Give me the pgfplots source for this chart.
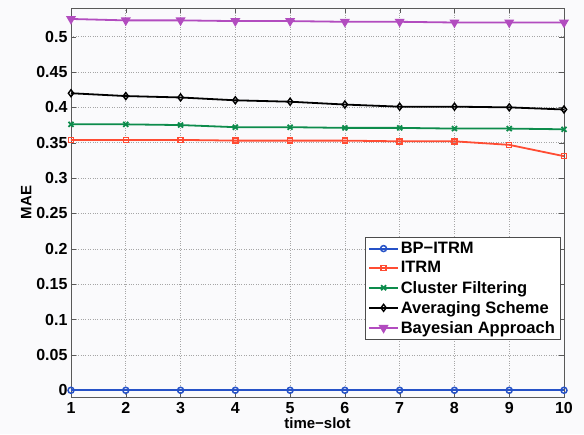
\documentclass[border=0pt]{standalone}
\usepackage{pgfplots}
\pgfplotsset{compat=1.18}
\usepackage{fontspec}
\setmainfont{Liberation Sans}
\definecolor{cblue}{rgb}{0.15,0.32,0.78}
\definecolor{cred}{rgb}{1,0.3,0.2}
\definecolor{cgreen}{rgb}{0.05,0.55,0.3}
\definecolor{cpurple}{rgb}{0.7,0.3,0.75}
\definecolor{bgc}{rgb}{0.98,0.98,0.99}
\begin{document}
\begin{tikzpicture}
\fill[bgc] (-71pt,-37pt) rectangle (513pt,397pt);
\begin{axis}[
  at={(0,0)}, anchor=south west,
  scale only axis, width=493pt, height=389pt,
  xmin=1, xmax=10, ymin=-0.0095, ymax=0.5405,
  xtick={1,...,10},
  ytick={0,0.05,0.1,0.15,0.2,0.25,0.3,0.35,0.4,0.45,0.5},
  yticklabels={0,0.05,0.1,0.15,0.2,0.25,0.3,0.35,0.4,0.45,0.5},
  tick align=inside, tick pos=both,
  major tick length=5pt,
  tick style={gray!70!black},
  axis line style={gray!70!black, line width=0.8pt},
  grid=major,
  major grid style={dotted, gray!70, line width=0.6pt},
  /pgf/number format/assume math mode=true,
  tick label style={font=\fontsize{16}{18}\selectfont\bfseries},
  xticklabel style={yshift=-2pt},
  xlabel={time−slot}, ylabel={MAE},
  label style={font=\fontsize{15}{17}\selectfont\bfseries},
  xlabel style={yshift=3pt},
  ylabel style={yshift=-2pt},
  legend style={at={(0.992,0.147)}, anchor=south east, draw=gray!60!black,
    font=\fontsize{16.5}{18}\selectfont\bfseries, row sep=2.6pt, inner sep=3pt},
  legend cell align=left,
  legend image code/.code={\draw[mark repeat=2,mark phase=2] plot coordinates {(0cm,0cm)(0.5cm,0cm)(1cm,0cm)};},
  mark size=3pt,
]
\addplot[cblue, line width=2pt, mark=o, mark options={solid, line width=1.5pt}] coordinates {(1,0)(2,0)(3,0)(4,0)(5,0)(6,0)(7,0)(8,0)(9,0)(10,0)};
\addlegendentry{BP−ITRM}
\addplot[cred, line width=1.8pt, mark=square, mark options={solid, line width=1.4pt}, mark size=2.5pt] coordinates {(1,0.354)(2,0.354)(3,0.354)(4,0.353)(5,0.353)(6,0.353)(7,0.352)(8,0.352)(9,0.347)(10,0.331)};
\addlegendentry{ITRM}
\addplot[cgreen, line width=1.8pt, mark=x, mark options={solid, line width=1.8pt}, mark size=3.5pt] coordinates {(1,0.376)(2,0.376)(3,0.375)(4,0.372)(5,0.372)(6,0.371)(7,0.371)(8,0.370)(9,0.370)(10,0.369)};
\addlegendentry{Cluster Filtering}
\addplot[black, line width=1.8pt, mark=diamond, mark options={solid, line width=1.4pt}, mark size=3.5pt] coordinates {(1,0.420)(2,0.416)(3,0.414)(4,0.410)(5,0.408)(6,0.404)(7,0.401)(8,0.401)(9,0.400)(10,0.397)};
\addlegendentry{Averaging Scheme}
\addplot[cpurple, line width=1.8pt, mark=triangle*, mark options={solid, rotate=180}, mark size=4pt] coordinates {(1,0.525)(2,0.523)(3,0.523)(4,0.522)(5,0.522)(6,0.521)(7,0.521)(8,0.520)(9,0.520)(10,0.520)};
\addlegendentry{Bayesian Approach}
\end{axis}
\end{tikzpicture}
\end{document}
